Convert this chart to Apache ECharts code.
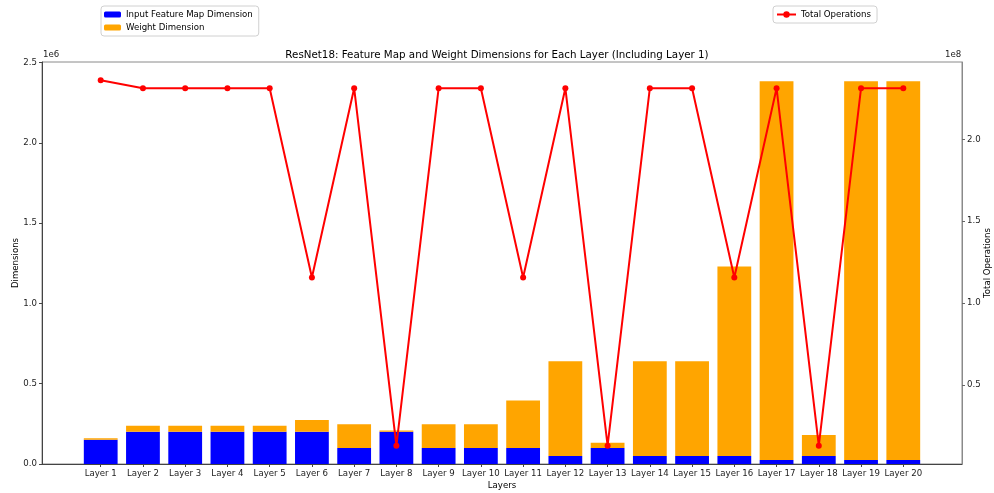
<!DOCTYPE html>
<html>
<head>
<meta charset="utf-8">
<script src="https://cdn.jsdelivr.net/npm/echarts@6/dist/echarts.min.js"></script>
<style>
  html, body { margin: 0; padding: 0; background: #fff; }
  #chart { width: 994px; height: 493px; }
</style>
</head>
<body>
<div id="chart"></div>
<script>
// ResNet18 layers: feature map size, weight count and operation count per layer
const layers = ['Layer 1', 'Layer 2', 'Layer 3', 'Layer 4', 'Layer 5', 'Layer 6', 'Layer 7',
  'Layer 8', 'Layer 9', 'Layer 10', 'Layer 11', 'Layer 12', 'Layer 13', 'Layer 14',
  'Layer 15', 'Layer 16', 'Layer 17', 'Layer 18', 'Layer 19', 'Layer 20'];

const inputDims = [150528, 200704, 200704, 200704, 200704, 200704, 100352, 200704, 100352, 100352,
  100352, 50176, 100352, 50176, 50176, 50176, 25088, 50176, 25088, 25088];

const weightDims = [9408, 36864, 36864, 36864, 36864, 73728, 147456, 8192, 147456, 147456,
  294912, 589824, 32768, 589824, 589824, 1179648, 2359296, 131072, 2359296, 2359296];

const totalOps = [236027904, 231211008, 231211008, 231211008, 231211008, 115605504, 231211008,
  12845056, 231211008, 231211008, 115605504, 231211008, 12845056, 231211008, 231211008,
  115605504, 231211008, 12845056, 231211008, 231211008];

const dimTicks = [0, 500000, 1000000, 1500000, 2000000, 2500000];
const opsTicks = [50000000, 100000000, 150000000, 200000000];

const FONT = 'DejaVu Sans';
const layerIdx = layers.map((_, i) => i);

// Axis extents (x in layer units, padded around the bars)
const X_MIN = -1.39, X_MAX = 20.39;
const DIM_MAX = 2503603;
const OPS_MIN = 1686614, OPS_MAX = 247187046;

// Frame geometry; the bar grid is inset so its category bands line up with the layer positions
const PLOT = { left: 42, right: 32, top: 62, bottom: 29 };
const unitPx = (994 - PLOT.left - PLOT.right) / (X_MAX - X_MIN);
const inset = (-0.5 - X_MIN) * unitPx;

const chart = echarts.init(document.getElementById('chart'), null, { renderer: 'canvas' });

chart.setOption({
  animation: false,
  textStyle: { fontFamily: FONT },
  title: {
    text: 'ResNet18: Feature Map and Weight Dimensions for Each Layer (Including Layer 1)',
    left: 'center',
    top: 45,
    textStyle: { fontFamily: FONT, fontSize: 10.3, fontWeight: 'normal', color: '#000' }
  },
  legend: [
    {
      data: ['Input Feature Map Dimension', 'Weight Dimension'],
      orient: 'vertical',
      left: 101, top: 6,
      padding: [4, 6, 4, 3],
      itemGap: 4,
      itemWidth: 17, itemHeight: 6,
      borderColor: '#d0d0d0', borderWidth: 1, borderRadius: 3,
      textStyle: { fontFamily: FONT, fontSize: 8.6, color: '#000' }
    },
    {
      data: ['Total Operations'],
      left: 773, top: 6,
      padding: [4, 6, 4, 3],
      itemWidth: 19, itemHeight: 8,
      borderColor: '#d0d0d0', borderWidth: 1, borderRadius: 3,
      textStyle: { fontFamily: FONT, fontSize: 8.6, color: '#000' }
    }
  ],
  grid: [
    {
      left: PLOT.left, right: PLOT.right, top: PLOT.top, bottom: PLOT.bottom,
      outerBoundsMode: 'none', containLabel: false,
      show: true, borderColor: '#8a8a8a', borderWidth: 1, backgroundColor: 'transparent'
    },
    {
      left: PLOT.left + inset, right: PLOT.right + inset, top: PLOT.top, bottom: PLOT.bottom,
      outerBoundsMode: 'none', containLabel: false
    }
  ],
  xAxis: [
    {
      gridIndex: 0,
      type: 'value',
      min: X_MIN, max: X_MAX,
      name: 'Layers',
      nameLocation: 'middle',
      nameGap: 17,
      nameMoveOverlap: false,
      nameTextStyle: { fontFamily: FONT, fontSize: 8.6, color: '#000' },
      axisLine: { show: true, onZero: false, lineStyle: { color: '#444', width: 1 } },
      axisTick: { show: true, customValues: layerIdx, length: 3, lineStyle: { color: '#444' } },
      axisLabel: {
        customValues: layerIdx,
        margin: 5,
        fontFamily: FONT, fontSize: 8.6, color: '#222',
        formatter: v => layers[Math.round(v)]
      },
      splitLine: { show: false }
    },
    {
      gridIndex: 1,
      type: 'category',
      data: layers,
      boundaryGap: true,
      show: false
    }
  ],
  yAxis: [
    {
      gridIndex: 0,
      type: 'value',
      min: 0, max: DIM_MAX,
      name: 'Dimensions',
      nameLocation: 'middle',
      nameGap: 22,
      nameMoveOverlap: false,
      nameTextStyle: { fontFamily: FONT, fontSize: 8.6, color: '#000' },
      axisLine: { show: true, onZero: false, lineStyle: { color: '#444', width: 1 } },
      axisTick: { show: true, customValues: dimTicks, length: 3, lineStyle: { color: '#444' } },
      axisLabel: {
        customValues: dimTicks,
        margin: 5,
        fontFamily: FONT, fontSize: 8.6, color: '#222',
        formatter: v => (v / 1e6).toFixed(1)
      },
      splitLine: { show: false }
    },
    {
      gridIndex: 0,
      type: 'value',
      position: 'right',
      min: OPS_MIN, max: OPS_MAX,
      name: 'Total Operations',
      nameLocation: 'middle',
      nameGap: 21,
      nameMoveOverlap: false,
      nameTextStyle: { fontFamily: FONT, fontSize: 8.6, color: '#000' },
      axisLine: { show: true, onZero: false, lineStyle: { color: '#8a8a8a', width: 1 } },
      axisTick: { show: true, customValues: opsTicks, length: 3, lineStyle: { color: '#666' } },
      axisLabel: {
        customValues: opsTicks,
        margin: 5,
        fontFamily: FONT, fontSize: 8.6, color: '#222',
        formatter: v => (v / 1e8).toFixed(1)
      },
      splitLine: { show: false }
    },
    {
      gridIndex: 1,
      type: 'value',
      min: 0, max: DIM_MAX,
      show: false,
      splitLine: { show: false }
    }
  ],
  graphic: [
    { type: 'text', left: 43, top: 50, style: { text: '1e6', font: '8.6px "DejaVu Sans"', fill: '#222' } },
    { type: 'text', left: 945, top: 50, style: { text: '1e8', font: '8.6px "DejaVu Sans"', fill: '#222' } }
  ],
  series: [
    {
      name: 'Input Feature Map Dimension',
      type: 'bar',
      xAxisIndex: 1, yAxisIndex: 2,
      stack: 'dims',
      barWidth: '80%',
      itemStyle: { color: '#0000ff' },
      data: inputDims
    },
    {
      name: 'Weight Dimension',
      type: 'bar',
      xAxisIndex: 1, yAxisIndex: 2,
      stack: 'dims',
      barWidth: '80%',
      itemStyle: { color: '#ffa500' },
      data: weightDims
    },
    {
      name: 'Total Operations',
      type: 'line',
      xAxisIndex: 0, yAxisIndex: 1,
      symbol: 'circle',
      symbolSize: 6,
      lineStyle: { color: '#ff0000', width: 2 },
      itemStyle: { color: '#ff0000' },
      z: 5,
      data: totalOps.map((v, i) => [i, v])
    }
  ]
});
</script>
</body>
</html>
